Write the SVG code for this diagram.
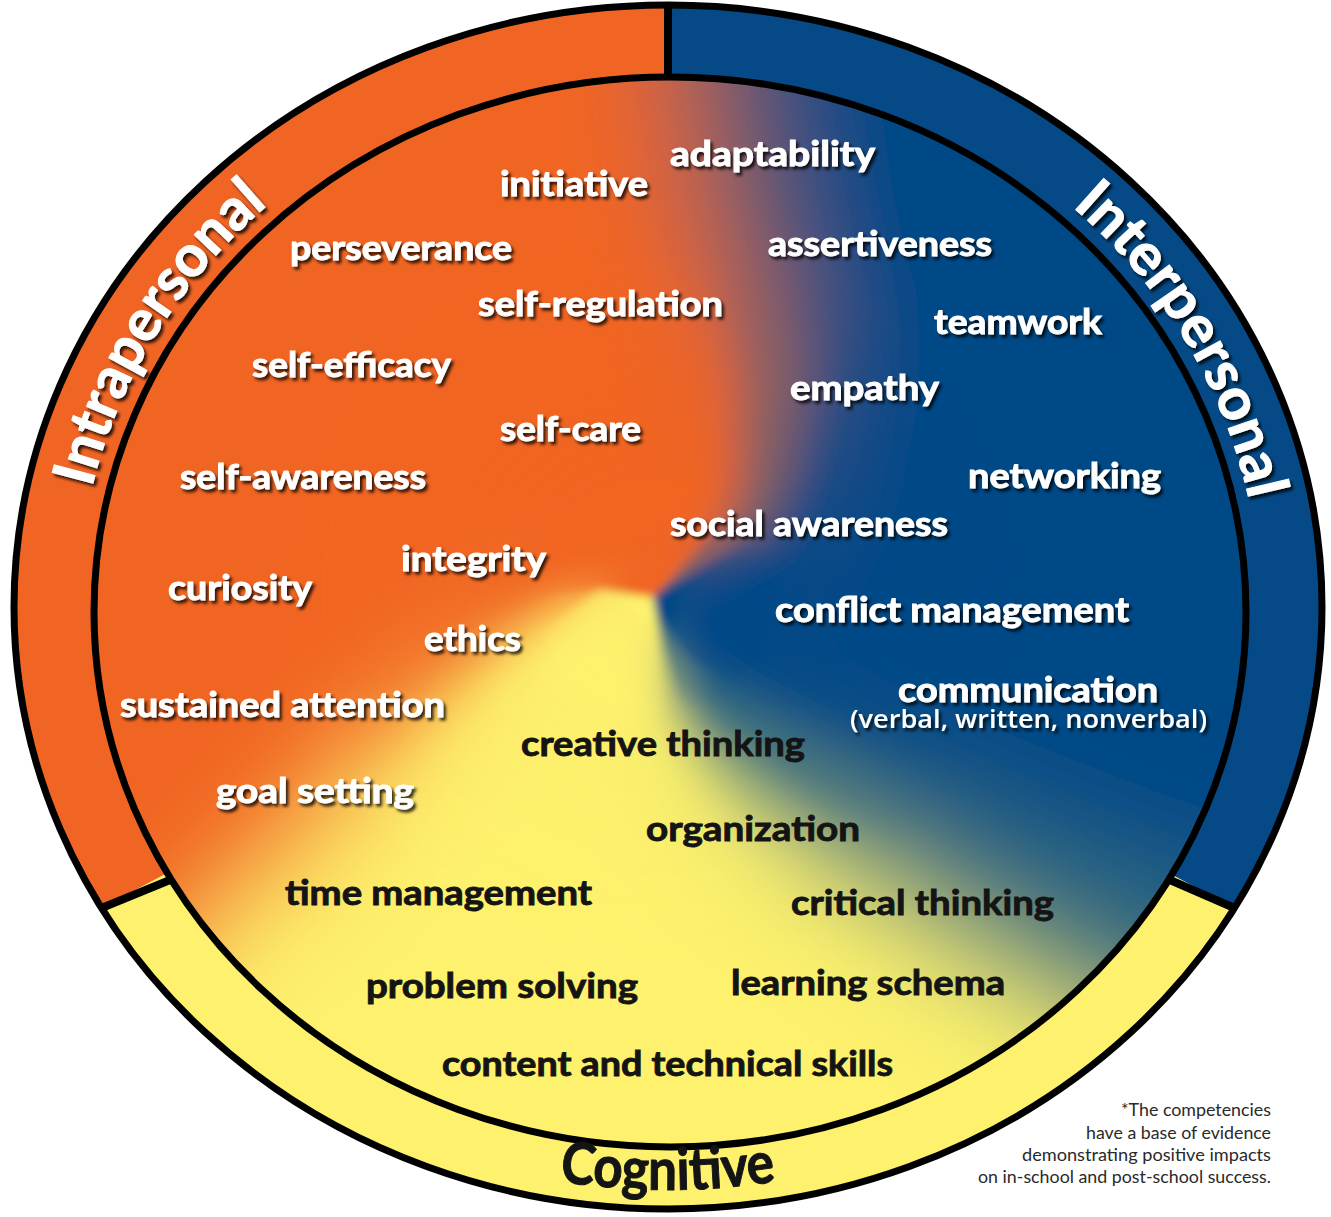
<svg xmlns="http://www.w3.org/2000/svg" width="1331" height="1217" viewBox="0 0 1331 1217">
<defs>
<style>
.lbl{font-family:Lato,"Open Sans","Liberation Sans",sans-serif;font-weight:700;font-size:34px;stroke-width:0.9px}
.w{fill:#ffffff;stroke:#ffffff}
.k{fill:#141414;stroke:#141414}
.sub{font-family:"Open Sans",Lato,"Liberation Sans",sans-serif;font-weight:600;font-size:25px;fill:#ffffff}
.ring{fill:none;stroke:#000;stroke-width:7}
.divl{stroke:#000;stroke-width:8;stroke-linecap:butt}
.band{font-family:Lato,"Open Sans","Liberation Sans",sans-serif;font-weight:700;font-size:58px;stroke-width:1px}
.note{font-family:Lato,"Open Sans","Liberation Sans",sans-serif;font-size:17px;fill:#2a2a2a;text-anchor:end}
</style>
<filter id="shadow" x="-10%" y="-40%" width="125%" height="180%">
<feDropShadow dx="2.5" dy="3" stdDeviation="1.8" flood-color="#000" flood-opacity="0.8"/>
</filter>
<filter id="b1" filterUnits="userSpaceOnUse" x="-400" y="-400" width="2131" height="2017"><feGaussianBlur stdDeviation="5"/></filter>
<filter id="b2" filterUnits="userSpaceOnUse" x="-400" y="-400" width="2131" height="2017"><feGaussianBlur stdDeviation="20"/></filter>
<filter id="b3" filterUnits="userSpaceOnUse" x="-400" y="-400" width="2131" height="2017"><feGaussianBlur stdDeviation="55"/></filter>
<clipPath id="innerClip"><ellipse cx="670" cy="612" rx="576" ry="535"/></clipPath>
<radialGradient id="rg2" gradientUnits="userSpaceOnUse" cx="653" cy="597" r="200">
<stop offset="0" stop-color="#000"/><stop offset="0.1" stop-color="#000"/><stop offset="0.6" stop-color="#fff"/><stop offset="1" stop-color="#fff"/>
</radialGradient>
<radialGradient id="rg3" gradientUnits="userSpaceOnUse" cx="653" cy="597" r="450">
<stop offset="0" stop-color="#000"/><stop offset="0.25" stop-color="#000"/><stop offset="0.8" stop-color="#fff"/><stop offset="1" stop-color="#fff"/>
</radialGradient>
<mask id="m2" maskUnits="userSpaceOnUse" x="0" y="0" width="1331" height="1217"><rect x="0" y="0" width="1331" height="1217" fill="url(#rg2)"/></mask>
<mask id="m3" maskUnits="userSpaceOnUse" x="0" y="0" width="1331" height="1217"><rect x="0" y="0" width="1331" height="1217" fill="url(#rg3)"/></mask>
<g id="sectors">
<rect x="-500" y="-500" width="2331" height="2217" fill="#FDF16D"/>
<path fill="#F16524" d="M653,597 L705,555 L752,520 L765,470 L775,370 L762,290 L740,220 L720,100 L705,0 L700,-500 L-500,-500 L-500,1500 L-60,1260 L20,1170 L110,1060 L170,990 L230,905 L290,815 L335,770 L400,714 L450,666 L500,626 L555,596 L600,590 Z"/>
<path fill="#F8A543" d="M600,590 L555,596 L500,626 L450,666 L400,714 L335,770 L290,815 L230,905 L300,880 L360,800 L420,740 L470,690 L520,645 L570,610 Z"/>
<path fill="#054A87" d="M653,597 L705,555 L752,520 L765,470 L775,370 L762,290 L740,220 L720,100 L705,0 L700,-500 L1900,-500 L1900,1450 L1500,1220 L1300,1110 L1160,1030 L1080,985 L1000,940 L920,890 L840,840 L770,790 L715,745 L678,700 L665,650 Z"/>
<path fill="#7A6262" d="M653,597 L700,548 L735,505 L740,460 L738,370 L720,290 L695,220 L675,100 L660,0 L655,-200 L745,-200 L750,0 L765,100 L782,220 L802,290 L810,372 L790,478 L770,530 L712,560 Z"/>
<path fill="#2F6B7E" d="M653,597 L660,620 L690,660 L750,700 L830,740 L920,780 L1020,820 L1120,860 L1250,905 L1500,980 L1500,1220 L1300,1110 L1160,1030 L1080,985 L1000,940 L920,890 L840,840 L770,790 L715,745 L678,700 L665,650 Z"/>
<path fill="#A6BC72" d="M653,597 L665,650 L678,700 L715,745 L770,790 L840,840 L920,890 L1000,940 L1080,985 L1160,1030 L1300,1110 L1500,1220 L1500,1400 L1300,1160 L1150,1080 L1060,1030 L980,985 L900,935 L820,880 L750,830 L700,775 L670,720 L660,660 Z"/>
</g>
<path id="pIntra" d="M77,610 A592,551 0 0,1 391.1,123.5"/>
<path id="pInter" d="M965,132.8 A592,551 0 0,1 1260.6,629.2"/>
<path id="pCog" d="M503.9,1170.1 A634,583 0 0,0 831.1,1170.1"/>
</defs>

<g id="outer-ring">
<path fill="#F16524" d="M668,607 L101.6,908 A654,602 0 0,1 668,5 Z"/>
<path fill="#054A87" d="M668,607 L668,5 A654,602 0 0,1 1234.4,908 Z"/>
<path fill="#FDF16D" d="M668,607 L1234.4,908 A654,602 0 0,1 101.6,908 Z"/>
</g>

<g id="inner-field" clip-path="url(#innerClip)">
<use href="#sectors" filter="url(#b1)"/>
<g mask="url(#m2)"><use href="#sectors" filter="url(#b2)"/></g>
<g mask="url(#m3)"><use href="#sectors" filter="url(#b3)"/></g>
</g>

<g id="outlines">
<ellipse class="ring" cx="668" cy="607" rx="654" ry="602"/>
<ellipse class="ring" cx="670" cy="612" rx="576" ry="535"/>
<line class="divl" x1="668" y1="3" x2="668" y2="78"/>
<line class="divl" x1="101.6" y1="908" x2="171.2" y2="879.5"/>
<line class="divl" x1="1234.4" y1="908" x2="1168.8" y2="879.5"/>
</g>

<g id="band-labels">
<g id="intrapersonal" filter="url(#shadow)"><text class="band w"><textPath href="#pIntra" startOffset="48%" text-anchor="middle" textLength="338" lengthAdjust="spacingAndGlyphs">Intrapersonal</textPath></text></g>
<g id="interpersonal" filter="url(#shadow)"><text class="band w"><textPath href="#pInter" startOffset="50%" text-anchor="middle" textLength="348" lengthAdjust="spacingAndGlyphs">Interpersonal</textPath></text></g>
<g id="cognitive"><text class="band k" font-size="50"><textPath href="#pCog" startOffset="50%" text-anchor="middle" textLength="218" lengthAdjust="spacingAndGlyphs">Cognitive</textPath></text></g>
</g>

<g id="white-labels" filter="url(#shadow)">
<g id="n-adaptability"><text class="lbl w" x="670" y="166" textLength="205" lengthAdjust="spacingAndGlyphs">adaptability</text></g>
<g id="n-initiative"><text class="lbl w" x="500" y="196" textLength="148" lengthAdjust="spacingAndGlyphs">initiative</text></g>
<g id="n-perseverance"><text class="lbl w" x="290" y="260" textLength="222" lengthAdjust="spacingAndGlyphs">perseverance</text></g>
<g id="n-assertiveness"><text class="lbl w" x="768" y="256" textLength="224" lengthAdjust="spacingAndGlyphs">assertiveness</text></g>
<g id="n-self-regulation"><text class="lbl w" x="478" y="316" textLength="245" lengthAdjust="spacingAndGlyphs">self-regulation</text></g>
<g id="n-teamwork"><text class="lbl w" x="934" y="334" textLength="168" lengthAdjust="spacingAndGlyphs">teamwork</text></g>
<g id="n-self-efficacy"><text class="lbl w" x="252" y="377" textLength="199" lengthAdjust="spacingAndGlyphs">self-efficacy</text></g>
<g id="n-empathy"><text class="lbl w" x="790" y="400" textLength="149" lengthAdjust="spacingAndGlyphs">empathy</text></g>
<g id="n-self-care"><text class="lbl w" x="500" y="441" textLength="141" lengthAdjust="spacingAndGlyphs">self-care</text></g>
<g id="n-self-awareness"><text class="lbl w" x="180" y="489" textLength="246" lengthAdjust="spacingAndGlyphs">self-awareness</text></g>
<g id="n-networking"><text class="lbl w" x="968" y="488" textLength="193" lengthAdjust="spacingAndGlyphs">networking</text></g>
<g id="n-social-awareness"><text class="lbl w" x="670" y="536" textLength="278" lengthAdjust="spacingAndGlyphs">social awareness</text></g>
<g id="n-integrity"><text class="lbl w" x="401" y="571" textLength="145" lengthAdjust="spacingAndGlyphs">integrity</text></g>
<g id="n-curiosity"><text class="lbl w" x="168" y="600" textLength="144" lengthAdjust="spacingAndGlyphs">curiosity</text></g>
<g id="n-conflict-management"><text class="lbl w" x="775" y="622" textLength="354" lengthAdjust="spacingAndGlyphs">conflict management</text></g>
<g id="n-ethics"><text class="lbl w" x="424" y="651" textLength="97" lengthAdjust="spacingAndGlyphs">ethics</text></g>
<g id="n-communication"><text class="lbl w" x="898" y="702" textLength="260" lengthAdjust="spacingAndGlyphs">communication</text>
<text class="sub" x="850" y="728" textLength="357" lengthAdjust="spacingAndGlyphs">(verbal, written, nonverbal)</text></g>
<g id="n-sustained-attention"><text class="lbl w" x="120" y="717" textLength="325" lengthAdjust="spacingAndGlyphs">sustained attention</text></g>
<g id="n-goal-setting"><text class="lbl w" x="216" y="803" textLength="198" lengthAdjust="spacingAndGlyphs">goal setting</text></g>
</g>

<g id="black-labels">
<g id="n-creative-thinking"><text class="lbl k" x="521" y="756" textLength="284" lengthAdjust="spacingAndGlyphs">creative thinking</text></g>
<g id="n-organization"><text class="lbl k" x="646" y="841" textLength="214" lengthAdjust="spacingAndGlyphs">organization</text></g>
<g id="n-time-management"><text class="lbl k" x="285" y="905" textLength="307" lengthAdjust="spacingAndGlyphs">time management</text></g>
<g id="n-critical-thinking"><text class="lbl k" x="791" y="915" textLength="263" lengthAdjust="spacingAndGlyphs">critical thinking</text></g>
<g id="n-problem-solving"><text class="lbl k" x="366" y="998" textLength="272" lengthAdjust="spacingAndGlyphs">problem solving</text></g>
<g id="n-learning-schema"><text class="lbl k" x="731" y="995" textLength="274" lengthAdjust="spacingAndGlyphs">learning schema</text></g>
<g id="n-content-skills"><text class="lbl k" x="442" y="1076" textLength="451" lengthAdjust="spacingAndGlyphs">content and technical skills</text></g>
</g>

<g id="footnote">
<text class="note" x="1271" y="1116" textLength="150" lengthAdjust="spacingAndGlyphs">*The competencies</text>
<text class="note" x="1271" y="1139" textLength="185" lengthAdjust="spacingAndGlyphs">have a base of evidence</text>
<text class="note" x="1271" y="1161" textLength="249" lengthAdjust="spacingAndGlyphs">demonstrating positive impacts</text>
<text class="note" x="1271" y="1183" textLength="293" lengthAdjust="spacingAndGlyphs">on in-school and post-school success.</text>
</g>
</svg>
